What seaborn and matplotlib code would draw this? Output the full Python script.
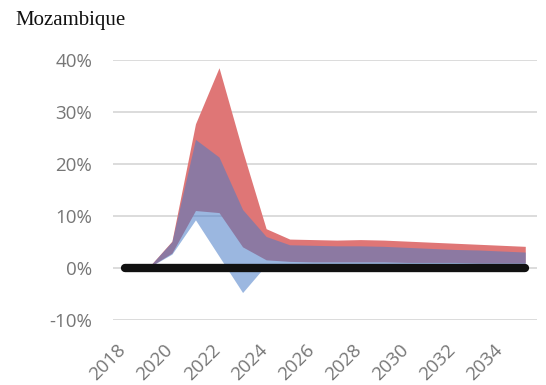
import matplotlib
matplotlib.use("Agg")
import matplotlib.pyplot as plt
from matplotlib.ticker import FuncFormatter
from matplotlib.transforms import ScaledTranslation
import seaborn as sns

# Projected range bands for Mozambique (percent)
years = list(range(2019, 2036))
band1_high = [0.0, 5.1, 27.7, 38.5, 22.5, 7.5, 5.5, 5.4, 5.3, 5.4, 5.3, 5.1, 4.9, 4.7, 4.5, 4.3, 4.1]
band1_low = [0.0, 2.8, 11.0, 10.6, 4.0, 1.5, 1.2, 1.1, 1.1, 1.1, 1.1, 1.0, 1.0, 1.0, 0.9, 0.9, 0.9]
band2_high = [0.0, 5.0, 24.7, 21.3, 11.2, 6.0, 4.4, 4.3, 4.2, 4.2, 4.1, 3.9, 3.7, 3.5, 3.4, 3.2, 3.0]
band2_low = [0.0, 2.6, 9.2, 2.2, -4.8, 0.5, 0.6, 0.6, 0.6, 0.6, 0.6, 0.6, 0.6, 0.5, 0.5, 0.5, 0.5]

line_years = list(range(2018, 2036))
zero_values = [0.0] * len(line_years)

x_ticks = list(range(2018, 2035, 2))
y_ticks = [-10, 0, 10, 20, 30, 40]

sns.set_theme(style="white")
plt.rcParams["font.family"] = ["Open Sans", "DejaVu Sans"]

fig = plt.figure(figsize=(5.46, 3.85), dpi=100)
ax = fig.add_axes([0.207, 0.170, 0.7766, 0.6743])

ax.fill_between(years, band1_low, band1_high, color=(223/255, 118/255, 118/255),
                lw=0, zorder=2)
ax.fill_between(years, band2_low, band2_high, color=(73/255, 124/255, 200/255),
                alpha=0.55, lw=0, zorder=3)

sns.lineplot(x=line_years, y=zero_values, ax=ax, color="#111111", lw=6,
             solid_capstyle="round", zorder=4, clip_on=False)

ax.set_xlim(2017.5, 2035.5)
ax.set_ylim(-10, 40)
ax.set_xticks(x_ticks)
ax.set_yticks(y_ticks)
ax.yaxis.set_major_formatter(FuncFormatter(lambda v, _: f"{v:.0f}%"))
ax.grid(axis="y", color="#d9d9d9", lw=1.3, zorder=0)
ax.grid(axis="x", visible=False)
for s in ax.spines.values():
    s.set_visible(False)

ax.tick_params(axis="y", length=0, pad=15, labelsize=13.5, labelcolor="#767676")
ax.tick_params(axis="x", length=0, pad=15.5, labelsize=13.5, labelcolor="#767676")
shift = ScaledTranslation(-8/100, 0, fig.dpi_scale_trans)
for lab in ax.get_xticklabels():
    lab.set_rotation(45)
    lab.set_ha("right")
    lab.set_rotation_mode("anchor")
    lab.set_transform(lab.get_transform() + shift)

fig.text(15/546, 1 - 20/385, "Mozambique", family="Liberation Serif",
         fontsize=15, va="center", ha="left", color="#111111")

fig.savefig("out.png", dpi=100)
